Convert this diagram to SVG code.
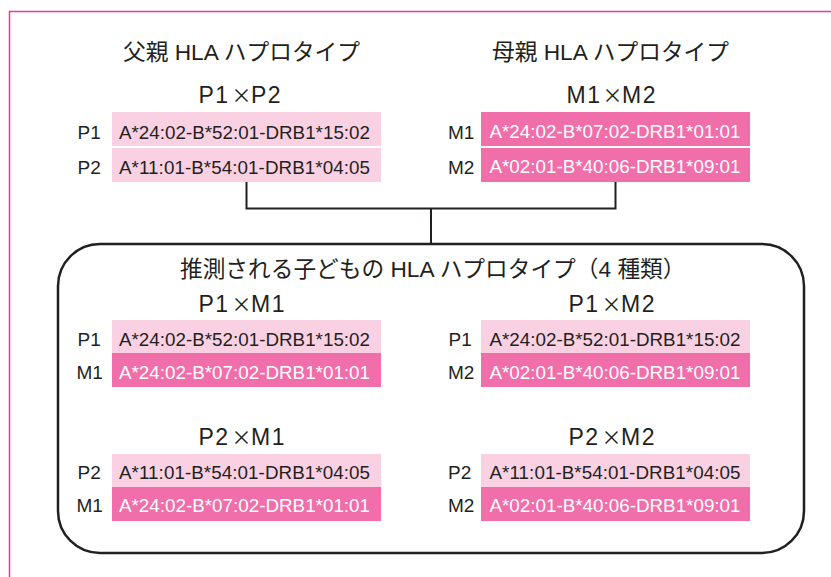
<svg xmlns="http://www.w3.org/2000/svg" width="831" height="577" viewBox="0 0 831 577">
<style>
text{font-family:"Liberation Sans","Noto Sans CJK JP",sans-serif;fill:#231F20}
.t{font-size:22.7px}
.h{font-size:23px;letter-spacing:1.5px}
.x{font-family:"Noto Sans CJK JP",sans-serif;font-size:20px;letter-spacing:0}
.l{font-size:19px}
.a{font-size:18.8px}
.w{fill:#FFFFFF}
.lt{fill:#F9D1E3}
.dk{fill:#F06EA9}
.c{fill:none;stroke:#231F20;stroke-width:2}
</style>
<rect width="831" height="577" fill="#FFFFFF"/>
<path d="M9.5,577 V11.5 H831" fill="none" stroke="#E5399B" stroke-width="1.5"/>

<g id="connectors">
<path class="c" d="M246.5,182 V208.5 H615.5 V182"/>
<path class="c" d="M431,208.5 V244"/>
</g>

<g id="father">
<text class="t" x="123" y="60">父親 HLA ハプロタイプ</text>
<text class="h" y="102.5"><tspan x="198.5">P1</tspan><tspan class="x" x="241.5" text-anchor="middle">×</tspan><tspan x="251">P2</tspan></text>
<rect class="lt" x="112" y="112" width="269" height="34"/>
<rect class="lt" x="112" y="148" width="269" height="34"/>
<text class="l" x="77.5" y="138.5">P1</text>
<text class="l" x="77.5" y="173.5">P2</text>
<text class="a" x="119" y="138.5" textLength="251" lengthAdjust="spacing">A*24:02-B*52:01-DRB1*15:02</text>
<text class="a" x="119" y="173.5" textLength="251" lengthAdjust="spacing">A*11:01-B*54:01-DRB1*04:05</text>
</g>

<g id="mother">
<text class="t" x="492" y="60">母親 HLA ハプロタイプ</text>
<text class="h" y="102.5"><tspan x="566.5">M1</tspan><tspan class="x" x="612.5" text-anchor="middle">×</tspan><tspan x="622">M2</tspan></text>
<rect class="dk" x="481" y="112" width="269" height="34"/>
<rect class="dk" x="481" y="148" width="269" height="34"/>
<text class="l" x="448" y="138.5">M1</text>
<text class="l" x="448" y="173.5">M2</text>
<text class="a w" x="489.5" y="138" textLength="251" lengthAdjust="spacing">A*24:02-B*07:02-DRB1*01:01</text>
<text class="a w" x="489.5" y="173" textLength="251" lengthAdjust="spacing">A*02:01-B*40:06-DRB1*09:01</text>
</g>

<g id="children">
<rect x="58" y="244" width="746" height="309" rx="42" ry="42" fill="none" stroke="#231F20" stroke-width="2.5"/>
<text class="t" x="180" y="277">推測される子どもの HLA ハプロタイプ（4 種類）</text>
</g>

<g id="p1m1">
<text class="h" y="311.5"><tspan x="198.5">P1</tspan><tspan class="x" x="241.5" text-anchor="middle">×</tspan><tspan x="251">M1</tspan></text>
<rect class="lt" x="112" y="320" width="269" height="33"/>
<rect class="dk" x="112" y="353" width="269" height="34"/>
<text class="l" x="77.5" y="345.5">P1</text>
<text class="l" x="76.5" y="378.5">M1</text>
<text class="a" x="119" y="345.5" textLength="251" lengthAdjust="spacing">A*24:02-B*52:01-DRB1*15:02</text>
<text class="a w" x="119" y="378.5" textLength="251" lengthAdjust="spacing">A*24:02-B*07:02-DRB1*01:01</text>
</g>

<g id="p1m2">
<text class="h" y="311.5"><tspan x="568.5">P1</tspan><tspan class="x" x="611.5" text-anchor="middle">×</tspan><tspan x="621">M2</tspan></text>
<rect class="lt" x="481" y="320" width="269" height="33"/>
<rect class="dk" x="481" y="353" width="269" height="34"/>
<text class="l" x="448.5" y="345.5">P1</text>
<text class="l" x="448" y="378.5">M2</text>
<text class="a" x="489.5" y="345.5" textLength="251" lengthAdjust="spacing">A*24:02-B*52:01-DRB1*15:02</text>
<text class="a w" x="489.5" y="378.5" textLength="251" lengthAdjust="spacing">A*02:01-B*40:06-DRB1*09:01</text>
</g>

<g id="p2m1">
<text class="h" y="445"><tspan x="198.5">P2</tspan><tspan class="x" x="241.5" text-anchor="middle">×</tspan><tspan x="251">M1</tspan></text>
<rect class="lt" x="112" y="454" width="269" height="33"/>
<rect class="dk" x="112" y="487" width="269" height="34"/>
<text class="l" x="77.5" y="478.5">P2</text>
<text class="l" x="76.5" y="512">M1</text>
<text class="a" x="119" y="478.5" textLength="251" lengthAdjust="spacing">A*11:01-B*54:01-DRB1*04:05</text>
<text class="a w" x="119" y="512" textLength="251" lengthAdjust="spacing">A*24:02-B*07:02-DRB1*01:01</text>
</g>

<g id="p2m2">
<text class="h" y="445"><tspan x="568.5">P2</tspan><tspan class="x" x="611.5" text-anchor="middle">×</tspan><tspan x="621">M2</tspan></text>
<rect class="lt" x="481" y="454" width="269" height="33"/>
<rect class="dk" x="481" y="487" width="269" height="34"/>
<text class="l" x="448" y="478.5">P2</text>
<text class="l" x="448" y="512">M2</text>
<text class="a" x="489.5" y="478.5" textLength="251" lengthAdjust="spacing">A*11:01-B*54:01-DRB1*04:05</text>
<text class="a w" x="489.5" y="512" textLength="251" lengthAdjust="spacing">A*02:01-B*40:06-DRB1*09:01</text>
</g>
</svg>
